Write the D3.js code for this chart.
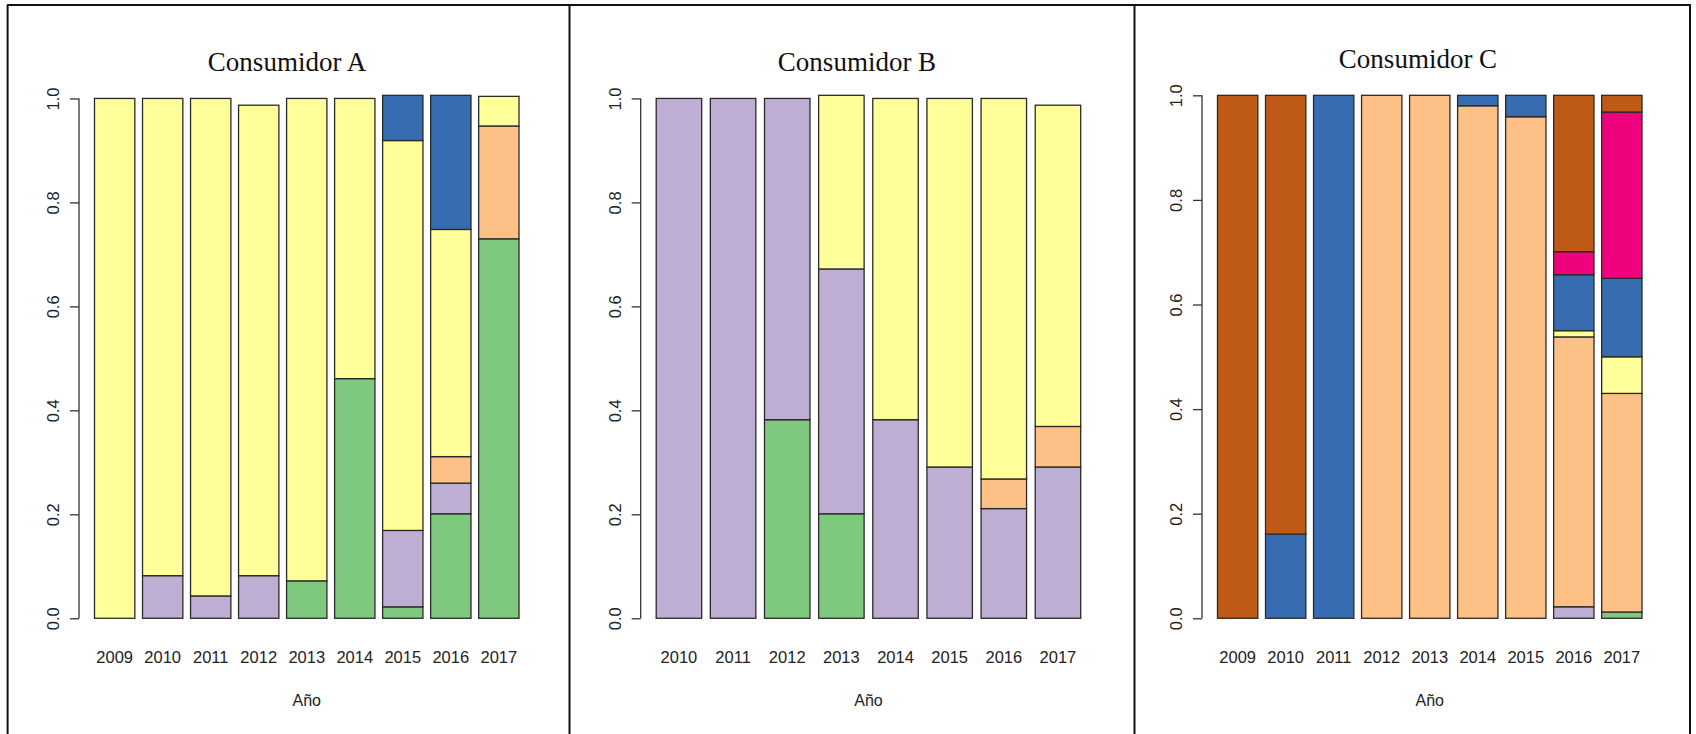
<!DOCTYPE html>
<html>
<head>
<meta charset="utf-8">
<script src="https://cdn.jsdelivr.net/npm/d3@7"></script>
<style>
  html, body { margin: 0; padding: 0; background: #fff; }
  svg { display: block; }
</style>
</head>
<body>
<svg id="chart" width="1696" height="734"></svg>
<script>
// ---------- DATA ----------
const keys = ["verde", "lila", "melocoton", "amarillo", "azul", "rosa", "marron"];
const colors = ["#7FC97F", "#BEAED4", "#FDC086", "#FFFF99", "#386CB0", "#F0027F", "#BF5B17"];
const tickValues = [0, 0.2, 0.4, 0.6, 0.8, 1.0];
const titles = ["Consumidor A", "Consumidor B", "Consumidor C"];
const xLabel = "Año";

// Consumidor A
const yearsA = ["2009", "2010", "2011", "2012", "2013", "2014", "2015", "2016", "2017"];
const verdeA     = [0, 0, 0, 0, 0.072, 0.461, 0.022, 0.201, 0.730];
const lilaA      = [0, 0.082, 0.043, 0.082, 0, 0, 0.147, 0.059, 0];
const melocotonA = [0, 0, 0, 0, 0, 0, 0, 0.051, 0.217];
const amarilloA  = [1.0, 0.918, 0.957, 0.905, 0.928, 0.539, 0.750, 0.437, 0.057];
const azulA      = [0, 0, 0, 0, 0, 0, 0.087, 0.258, 0];
const rosaA      = [0, 0, 0, 0, 0, 0, 0, 0, 0];
const marronA    = [0, 0, 0, 0, 0, 0, 0, 0, 0];

// Consumidor B
const yearsB = ["2010", "2011", "2012", "2013", "2014", "2015", "2016", "2017"];
const verdeB     = [0, 0, 0.382, 0.201, 0, 0, 0, 0];
const lilaB      = [1.0, 1.0, 0.618, 0.471, 0.382, 0.291, 0.211, 0.291];
const melocotonB = [0, 0, 0, 0, 0, 0, 0.057, 0.078];
const amarilloB  = [0, 0, 0, 0.334, 0.618, 0.709, 0.732, 0.618];
const azulB      = [0, 0, 0, 0, 0, 0, 0, 0];
const rosaB      = [0, 0, 0, 0, 0, 0, 0, 0];
const marronB    = [0, 0, 0, 0, 0, 0, 0, 0];

// Consumidor C
const yearsC = ["2009", "2010", "2011", "2012", "2013", "2014", "2015", "2016", "2017"];
const verdeC     = [0, 0, 0, 0, 0, 0, 0, 0, 0.012];
const lilaC      = [0, 0, 0, 0, 0, 0, 0, 0.022, 0];
const melocotonC = [0, 0, 0, 1.0, 1.0, 0.980, 0.959, 0.516, 0.418];
const amarilloC  = [0, 0, 0, 0, 0, 0, 0, 0.012, 0.070];
const azulC      = [0, 0.161, 1.0, 0, 0, 0.020, 0.041, 0.107, 0.150];
const rosaC      = [0, 0, 0, 0, 0, 0, 0, 0.044, 0.318];
const marronC    = [1.0, 0.839, 0, 0, 0, 0, 0, 0.299, 0.032];

// ---------- BUILD ----------
function rows(years, series) {
  return years.map((y, i) => {
    const r = { year: y };
    keys.forEach((k, j) => r[k] = series[j][i]);
    return r;
  });
}
const panels = [
  { title: titles[0], years: yearsA, data: rows(yearsA, [verdeA, lilaA, melocotonA, amarilloA, azulA, rosaA, marronA]),
    axisX: 79, titleX: 287, titleY: 71 },
  { title: titles[1], years: yearsB, data: rows(yearsB, [verdeB, lilaB, melocotonB, amarilloB, azulB, rosaB, marronB]),
    axisX: 640.7, titleX: 857, titleY: 71 },
  { title: titles[2], years: yearsC, data: rows(yearsC, [verdeC, lilaC, melocotonC, amarilloC, azulC, rosaC, marronC]),
    axisX: 1202, titleX: 1418, titleY: 68 }
];

const svg = d3.select("#chart");
const color = d3.scaleOrdinal().domain(keys).range(colors);
const plotBottom = 639.2, plotTop = 74.4;
const barsOffset = 15.5, barsWidth = 424.5;

panels.forEach(p => {
  const g = svg.append("g");
  const stacked = d3.stack().keys(keys)(p.data);
  const M = d3.max(stacked[stacked.length - 1], d => d[1]);
  const y = d3.scaleLinear().domain([-0.04 * M, 1.04 * M]).range([plotBottom, plotTop]);
  const x = d3.scaleBand().domain(p.years)
    .range([p.axisX + barsOffset, p.axisX + barsOffset + barsWidth])
    .paddingInner(0.16).paddingOuter(0);

  // bars
  g.selectAll("g.layer").data(stacked).join("g")
    .attr("class", "layer")
    .attr("fill", d => color(d.key))
    .selectAll("rect")
    .data(d => d.filter(s => s[1] - s[0] > 0))
    .join("rect")
    .attr("x", d => x(d.data.year))
    .attr("width", x.bandwidth())
    .attr("y", d => y(d[1]))
    .attr("height", d => y(d[0]) - y(d[1]))
    .attr("stroke", "#2a2a2a")
    .attr("stroke-width", 1.3);

  // y axis
  const ax = g.append("g")
    .attr("transform", `translate(${p.axisX},0)`)
    .call(d3.axisLeft(y).tickValues(tickValues).tickFormat(d3.format(".1f")).tickSize(9).tickSizeOuter(0));
  ax.select(".domain").remove();
  ax.append("line")
    .attr("x1", 0).attr("x2", 0)
    .attr("y1", y(0)).attr("y2", y(1))
    .attr("stroke", "#333").attr("stroke-width", 1.3);
  ax.selectAll(".tick line").attr("stroke", "#333").attr("stroke-width", 1.3);
  ax.selectAll(".tick text")
    .attr("x", null).attr("dy", null)
    .attr("transform", "translate(-19.7,0) rotate(-90)")
    .attr("text-anchor", "middle")
    .attr("fill", "#222")
    .style("font-family", "'Liberation Sans', Arial, sans-serif")
    .style("font-size", "16.5px");

  // x labels
  g.selectAll("text.xl").data(p.years).join("text")
    .attr("class", "xl")
    .attr("x", d => x(d) + x.bandwidth() / 2)
    .attr("y", 662.5)
    .attr("text-anchor", "middle")
    .attr("fill", "#222")
    .style("font-family", "'Liberation Sans', Arial, sans-serif")
    .style("font-size", "16.5px")
    .text(d => d);

  // x axis title
  g.append("text")
    .attr("x", p.axisX + barsOffset + barsWidth / 2)
    .attr("y", 706)
    .attr("text-anchor", "middle")
    .attr("fill", "#222")
    .style("font-family", "'Liberation Sans', Arial, sans-serif")
    .style("font-size", "16px")
    .text(xLabel);

  // title
  g.append("text")
    .attr("x", p.titleX)
    .attr("y", p.titleY)
    .attr("text-anchor", "middle")
    .attr("fill", "#111")
    .style("font-family", "'Liberation Serif', 'Times New Roman', serif")
    .style("font-size", "27px")
    .text(p.title);
});

// frame
const frame = svg.append("g").attr("stroke", "#111").attr("stroke-width", 2).attr("fill", "none");
frame.append("line").attr("x1", 7).attr("x2", 1691).attr("y1", 5).attr("y2", 5);
[7.6, 569.5, 1134.5, 1690].forEach(xv => {
  frame.append("line").attr("x1", xv).attr("x2", xv).attr("y1", 5).attr("y2", 734);
});
</script>
</body>
</html>
